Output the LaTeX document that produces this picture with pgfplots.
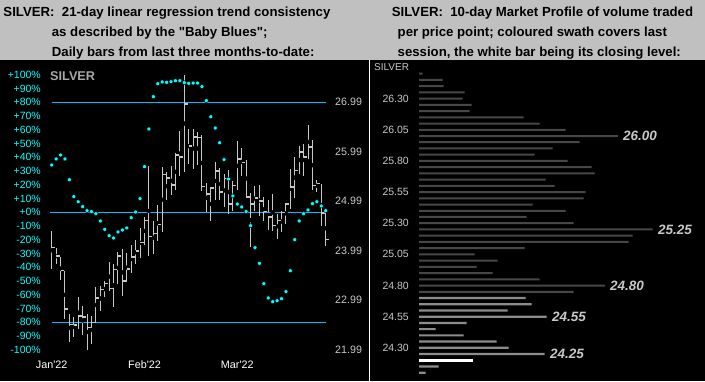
\documentclass[border=0pt]{standalone}
\usepackage{pgfplots}
\pgfplotsset{compat=1.18}
\usepackage{pgfplotstable}
\usepackage{fontspec}
\setmainfont{Liberation Sans}
\definecolor{bg}{HTML}{C0C0C0}
\definecolor{cyanlab}{HTML}{00FFFF}
\definecolor{refline}{HTML}{00BFFF}
\definecolor{dotc}{HTML}{00FFFF}
\definecolor{barc}{HTML}{C8C8C8}
\definecolor{pricelab}{HTML}{C8C8C8}
\definecolor{mpdark}{HTML}{474747}
\definecolor{mplight}{HTML}{8C8C8C}
\definecolor{silv}{HTML}{A8A8A8}
\pgfdeclareplotmark{rtick}{\pgfpathmoveto{\pgfpointorigin}\pgfpathlineto{\pgfpoint{3.5bp}{0pt}}\pgfusepathqstroke}

% daily bars: index, high, low, close (price)
\pgfplotstableread{
i h l c
0 24.38 23.62 24.06
1 24.04 23.72 23.89
2 23.86 23.40 23.59
3 23.59 22.61 22.81
4 22.71 22.15 22.50
5 22.65 22.25 22.49
6 23.06 22.42 22.67
7 22.88 22.29 22.65
8 22.71 21.99 22.44
9 22.67 22.11 22.54
10 23.25 22.54 23.04
11 23.28 22.77 23.21
12 23.38 23.05 23.33
13 23.76 23.18 23.23
14 23.72 22.86 23.61
15 23.97 23.32 23.88
16 24.03 23.08 23.38
17 23.95 23.35 23.62
18 24.10 23.55 23.86
19 24.20 23.72 23.99
20 24.45 23.85 24.16
21 24.68 24.10 24.60
22 25.70 23.89 24.28
23 24.59 23.92 24.34
24 24.91 24.18 24.52
25 25.68 24.36 25.53
26 25.58 25.01 25.46
27 25.70 25.11 25.32
28 25.96 25.21 25.92
29 26.41 25.50 25.88
30 27.54 25.58 26.95
31 26.46 25.75 26.11
32 26.46 25.65 26.29
33 26.39 25.72 26.28
34 26.33 25.20 25.29
35 25.35 24.77 25.14
36 25.28 24.59 25.26
37 25.79 25.01 25.60
38 25.67 25.01 25.18
39 25.55 24.87 25.45
40 25.62 24.74 24.94
41 25.40 24.80 25.31
42 26.20 25.21 25.85
43 26.06 25.51 25.77
44 25.82 25.08 25.08
45 25.16 24.06 24.93
46 25.29 24.80 25.06
47 25.31 24.70 25.00
48 25.07 24.59 24.78
49 25.02 24.41 24.67
50 25.13 24.40 24.50
51 24.74 24.23 24.60
52 24.80 24.36 24.76
53 24.96 24.53 24.94
54 25.65 24.84 25.28
55 25.88 25.06 25.61
56 26.10 25.55 25.99
57 26.14 25.51 25.89
58 26.53 25.85 26.09
59 26.23 25.21 25.31
60 25.43 25.18 25.35
61 25.33 24.50 24.75
62 24.80 24.09 24.22
}\ohlc

% Baby Blues (percent)
\pgfplotstableread{
i b
0 34.4
1 38.8
2 41.7
3 38.8
4 23.7
5 11.4
6 7.7
7 4.1
8 1.2
9 0.5
10 -1.0
11 -6.3
12 -12.4
13 -17.0
14 -18.7
15 -14.3
16 -12.9
17 -11.4
18 -3.9
19 0.2
20 9.9
21 33.2
22 60.6
23 84.1
24 93.5
25 94.8
26 94.5
27 95.0
28 95.7
29 95.7
30 94.3
31 93.8
32 94.0
33 94.0
34 91.4
35 81.2
36 69.5
37 61.3
38 50.6
39 38.3
40 24.2
41 11.9
42 6.0
43 3.9
44 0.5
45 -9.7
46 -25.7
47 -37.1
48 -51.9
49 -62.3
50 -65.0
51 -64.3
52 -62.8
53 -57.7
54 -42.5
55 -19.9
56 -6.3
57 -1.0
58 1.7
59 6.3
60 7.7
61 4.6
62 1.2
}\blues

% Market profile: price, length
\pgfplotstableread{
p len
26.50 3.7
26.45 23.7
26.40 24.7
26.35 45.7
26.30 43.7
26.25 52.7
26.20 50.7
26.15 104.7
26.10 120.7
26.05 146.7
26.00 199
25.95 160.7
25.90 133.7
25.85 115.7
25.80 148.7
25.75 172.7
25.70 175.7
25.65 126.7
25.60 135.7
25.55 166.7
25.50 164.7
25.45 113.7
25.40 146.7
25.35 107.7
25.30 154.7
25.25 233.7
25.20 213.7
25.15 209.7
25.10 105.7
25.05 55.7
25.00 78.7
24.95 57.7
24.90 73.7
24.85 120.7
24.80 186
24.75 154.7
}\mpdarktab
\pgfplotstableread{
p len
24.70 106.7
24.65 112.7
24.60 88.7
24.55 127.7
24.50 47.7
24.45 16.7
24.40 44.7
24.35 77.7
24.30 89.7
24.25 125.7
24.15 19.7
24.10 6.7
}\mplighttab
\pgfplotstableread{
p len
24.20 53.7
}\mpwhitetab

\begin{document}
\begin{tikzpicture}[x=1bp,y=1bp]
\useasboundingbox (0,0) rectangle (705,381);
\fill[bg] (0,0) rectangle (705,381);
\fill[black] (0,0) rectangle (368.6,321.5);
\fill[black] (370.2,0) rectangle (705,321.5);
\draw[white, line width=1.2bp] (369.4,0) -- (369.4,321.5);

% headers
\begin{scope}[every node/.style={anchor=base west, inner sep=0pt, font=\fontsize{13.2bp}{15bp}\selectfont\bfseries, text=black}]
\node at (3.3,364.6) {SILVER:\ \ 21-day linear regression trend consistency};
\node at (51.7,344.6) {as described by the \textquotedbl Baby Blues\textquotedbl;};
\node at (51.7,324.6) {Daily bars from last three months-to-date:};
\node at (391.7,364.6) {SILVER:\ \ 10-day Market Profile of volume traded};
\node at (397.5,344.6) {per price point; coloured swath covers last};
\node at (397.5,324.6) {session, the white bar being its closing level:};
\end{scope}

\node[anchor=west, inner sep=0pt, text=silv, font=\fontsize{12.7bp}{14bp}\selectfont\bfseries] at (50,305.3) {SILVER};
\node[anchor=west, inner sep=0pt, text=pricelab, font=\fontsize{10bp}{12bp}\selectfont] at (374,313.7) {SILVER};

% left panel: percent axis; price bars mapped with pct = (price - 24.7678)*36
\begin{axis}[at={(51.7bp,31.2bp)}, anchor=south west, scale only axis,
  width=274bp, height=275bp, xmin=0, xmax=62, ymin=-100, ymax=100,
  clip=false, axis line style={draw=none}, tick style={draw=none},
  ytick={-100,-90,-80,-70,-60,-50,-40,-30,-20,-10,0,10,20,30,40,50,60,70,80,90,100},
  yticklabels={-100\%,-90\%,-80\%,-70\%,-60\%,-50\%,-40\%,-30\%,-20\%,-10\%,+0\%,+10\%,+20\%,+30\%,+40\%,+50\%,+60\%,+70\%,+80\%,+90\%,+100\%},
  yticklabel style={anchor=east, inner sep=0pt, xshift=-10.7bp, text=cyanlab, font=\fontsize{10.5bp}{12bp}\selectfont},
  xtick={0,21,42},
  xticklabels={Jan\textquotesingle22,Feb\textquotesingle22,Mar\textquotesingle22},
  xticklabel style={anchor=center, inner sep=0pt, yshift=-15.2bp, text=white, font=\fontsize{10.8bp}{12bp}\selectfont}]
\addplot[draw=refline, line width=1.2bp, mark=none] coordinates {(0,80) (62,80)};
\addplot[draw=refline, line width=1.2bp, mark=none] coordinates {(-0.38,0) (62,0)};
\addplot[draw=refline, line width=1.2bp, mark=none] coordinates {(0,-80) (62,-80)};
\addplot[only marks, mark=none, error bars/.cd, y dir=both, y explicit, error mark=none,
  error bar style={draw=barc, line width=1bp}]
  table[x=i, y expr={((\thisrow{h}+\thisrow{l})/2-24.7678)*36}, y error expr={(\thisrow{h}-\thisrow{l})/2*36}] {\ohlc};
\addplot[only marks, mark=rtick, mark options={draw=barc, line width=1.6bp}]
  table[x=i, y expr={(\thisrow{c}-24.7678)*36}] {\ohlc};
\addplot[only marks, mark=*, mark size=2bp, mark options={fill=dotc, draw=none}] table[x=i, y=b] {\blues};
\begin{scope}[every node/.style={anchor=west, inner sep=0pt, xshift=9.3bp, text=pricelab, font=\fontsize{10.7bp}{12bp}\selectfont}]
\node at (axis cs:62,80) {26.99};
\node at (axis cs:62,44) {25.99};
\node at (axis cs:62,8) {24.99};
\node at (axis cs:62,-28) {23.99};
\node at (axis cs:62,-64) {22.99};
\node at (axis cs:62,-100) {21.99};
\end{scope}
\end{axis}

% market profile
\begin{axis}[at={(419bp,0bp)}, anchor=south west, scale only axis,
  width=286bp, height=321bp, xmin=0, xmax=286, ymin=24.0337, ymax=26.610,
  clip=false, axis line style={draw=none}, tick style={draw=none},
  xtick=\empty,
  ytick={24.30,24.55,24.80,25.05,25.30,25.55,25.80,26.05,26.30},
  yticklabels={24.30,24.55,24.80,25.05,25.30,25.55,25.80,26.05,26.30},
  yticklabel style={anchor=east, inner sep=0pt, xshift=-10bp, text=pricelab, font=\fontsize{10.5bp}{12bp}\selectfont}]
\addplot[xbar, bar width=2bp, fill=mpdark, draw=none] table[x=len, y=p] {\mpdarktab};
\addplot[xbar, bar width=2.2bp, fill=mplight, draw=none] table[x=len, y=p] {\mplighttab};
\addplot[xbar, bar width=3bp, fill=white, draw=none] table[x=len, y=p] {\mpwhitetab};
\begin{scope}[every node/.style={anchor=west, inner sep=0pt, text=pricelab, font=\fontsize{13.5bp}{15bp}\selectfont\bfseries\itshape}]
\node at (axis cs:204,26.00) {26.00};
\node at (axis cs:239,25.25) {25.25};
\node at (axis cs:191,24.80) {24.80};
\node at (axis cs:133,24.55) {24.55};
\node at (axis cs:131,24.25) {24.25};
\end{scope}
\end{axis}
\end{tikzpicture}
\end{document}
